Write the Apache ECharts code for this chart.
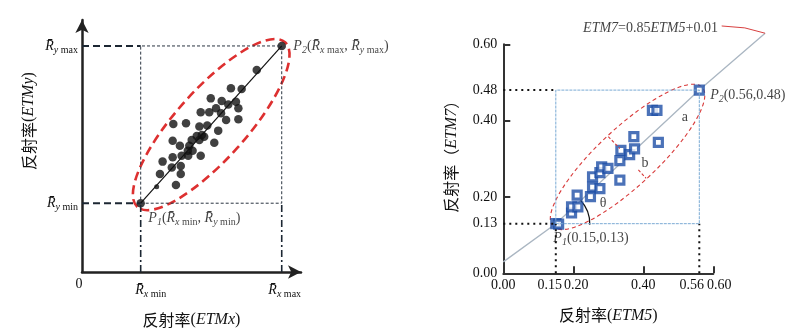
<!DOCTYPE html>
<html><head><meta charset="utf-8">
<script src="https://cdn.jsdelivr.net/npm/echarts@6/dist/echarts.min.js"></script>
<style>html,body{margin:0;padding:0;background:#fff}#c{width:794px;height:333px}</style>
</head><body><div id="c"></div>
<script>
// ================= LEFT (schematic) =================
const Rx = [0.268, 0.912];          // R̄x min, R̄x max
const Ry = [0.273, 0.897];          // R̄y min, R̄y max
const leftDots = [
  [0.798,0.802],[0.680,0.729],[0.729,0.726],[0.588,0.689],[0.638,0.679],[0.703,0.676],
  [0.668,0.665],[0.714,0.650],[0.612,0.650],[0.542,0.634],[0.581,0.634],[0.635,0.630],
  [0.658,0.603],[0.714,0.606],[0.417,0.587],[0.475,0.590],[0.536,0.577],[0.572,0.581],
  [0.622,0.561],[0.547,0.544],[0.524,0.540],[0.558,0.537],[0.501,0.524],[0.414,0.521],
  [0.536,0.524],[0.604,0.513],[0.447,0.501],[0.490,0.501],[0.483,0.481],[0.505,0.481],
  [0.414,0.455],[0.455,0.461],[0.485,0.461],[0.542,0.461],[0.368,0.438],[0.410,0.415],
  [0.451,0.421],[0.356,0.389],[0.451,0.389],[0.429,0.345]
];
const leftSmallDots = [[0.341,0.338]];
const leftLabelPos = { p1: [0.303, 0.214], p2: [0.965, 0.894] };

// ================= RIGHT (ETM5 vs ETM7) =================
const xTickLabelsMain = [0, 0.20, 0.40, 0.60];
const xTickLabelsExtra = [0.15, 0.56];
const yTickLabels = [0, 0.13, 0.20, 0.40, 0.48, 0.60];
const majorTicks = [0.20, 0.40, 0.60];
const P1 = [0.15, 0.13];
const P2 = [0.56, 0.48];
const squares = [
  [0.158,0.129],[0.195,0.158],[0.195,0.174],[0.213,0.174],[0.211,0.205],[0.249,0.201],
  [0.255,0.226],[0.276,0.222],[0.255,0.253],[0.276,0.264],[0.281,0.279],[0.299,0.275],
  [0.333,0.244],[0.333,0.295],[0.336,0.322],[0.361,0.311],[0.375,0.326],[0.373,0.358],
  [0.426,0.427],[0.439,0.427],[0.443,0.343]
];
const fitLine = [[0,0.03],[0.15,0.13],[0.56,0.48],[0.748,0.629]];
const leaderLine = [[0.624,0.648],[0.690,0.643],[0.748,0.629]];
const bMarks = [[[0.300,0.358],[0.333,0.327]],[[0.386,0.271],[0.408,0.249]]];
const rightLabelPos = { p1:[0.143,0.092], p2:[0.591,0.467], eq:[0.228,0.643], a:[0.519,0.409], b:[0.405,0.289], th:[0.285,0.184] };

// ================= styles =================
const serif = "'Liberation Serif','Times New Roman',serif";
const cjk = "'Noto Sans CJK SC','Noto Sans CJK JP',sans-serif";
const RB = 'R\u0304';
const rich = {
  t:  {fontFamily: serif, fontSize: 14, color:'#111', lineHeight: 18},
  it: {fontFamily: serif, fontSize: 14, fontStyle:'italic', color:'#111', lineHeight: 18},
  s:  {fontFamily: serif, fontSize: 10, fontStyle:'italic', color:'#111', lineHeight: 7, verticalAlign:'bottom'},
  sm: {fontFamily: serif, fontSize: 10, color:'#111', lineHeight: 7, verticalAlign:'bottom'}
};
const titleRich = {
  c: {fontFamily: cjk, fontSize: 16, color:'#111'},
  p: {fontFamily: serif, fontSize: 16, color:'#111'},
  i: {fontFamily: serif, fontSize: 16, fontStyle:'italic', color:'#111'}
};
const numStyle = (pad) => ({fontFamily:serif, fontSize:14, color:'#111', lineHeight:16, padding:pad});
const near = (a,b) => Math.abs(a-b) < 1e-6;

function seg(xi, pts, color, width, dash, extra) {
  return Object.assign({
    type:'line', xAxisIndex:xi, yAxisIndex:xi, data: pts, symbol:'none', silent:true,
    animation:false, lineStyle:{color, width, type: dash}
  }, extra || {});
}
function polySeries(xi, pts, style, z) {
  return {
    type:'custom', xAxisIndex:xi, yAxisIndex:xi, clip:false, silent:true, animation:false, z: z || 2,
    data: pts, encode:{x:0, y:1},
    renderItem(params, api) {
      if (params.dataIndex !== 0) return null;
      return {type:'polyline', shape:{points: pts.map(p => api.coord(p))}, style};
    }
  };
}
function ellipseSeries(xi, p1, p2, extra, minor, style) {
  return {
    type:'custom', xAxisIndex:xi, yAxisIndex:xi, clip:false, silent:true, animation:false,
    data:[[p1[0],p1[1],p2[0],p2[1]]], encode:{x:[0,2], y:[1,3]},
    renderItem(params, api) {
      const a = api.coord([api.value(0), api.value(1)]);
      const b = api.coord([api.value(2), api.value(3)]);
      const half = Math.hypot(b[0]-a[0], b[1]-a[1]) / 2;
      const ang = Math.atan2(b[1]-a[1], b[0]-a[0]);
      return {type:'ellipse', x:(a[0]+b[0])/2, y:(a[1]+b[1])/2, rotation:-ang,
        shape:{cx:0, cy:0, rx:half+extra, ry:minor}, style};
    }
  };
}
function labelSeries(xi, items) {
  return {
    type:'scatter', xAxisIndex:xi, yAxisIndex:xi, symbolSize:0, clip:false, silent:true, animation:false,
    data: items.map(it => ({value: it.pos, label:{formatter: it.text}})),
    label:{show:true, position:[0,0], align: 'left', verticalAlign:'middle', rich}
  };
}

const series = [
  // ---------- left ----------
  seg(0, [[0,Ry[1]],[Rx[0],Ry[1]]], '#1c2733', 2, [7,4]),
  seg(0, [[0,Ry[0]],[Rx[0],Ry[0]]], '#1c2733', 2, [7,4]),
  seg(0, [[Rx[0],Ry[0]],[Rx[1],Ry[0]],[Rx[1],Ry[1]],[Rx[0],Ry[1]],[Rx[0],Ry[0]]], '#2a3440', 1, [3,2]),
  seg(0, [[Rx[0],0],[Rx[0],Ry[0]]], '#1c2733', 1.6, [7,3,2,3]),
  seg(0, [[Rx[1],0],[Rx[1],Ry[0]]], '#1c2733', 1.6, [7,3,2,3]),
  seg(0, [[Rx[0],Ry[0]],[Rx[1],Ry[1]]], '#111', 1.2, 'solid'),
  ellipseSeries(0, [Rx[0],Ry[0]], [Rx[1],Ry[1]], 5, 35, {fill:null, stroke:'#dd3030', lineWidth:2.6, lineDash:[9,5]}),
  {type:'scatter', xAxisIndex:0, yAxisIndex:0, symbol:'circle', symbolSize:8.5, silent:true, animation:false,
    itemStyle:{color:'#111'}, data: leftDots.concat([[Rx[0],Ry[0]],[Rx[1],Ry[1]]])},
  {type:'scatter', xAxisIndex:0, yAxisIndex:0, symbol:'circle', symbolSize:5, silent:true, animation:false,
    itemStyle:{color:'#111'}, data: leftSmallDots},
  labelSeries(0, [
    {pos:leftLabelPos.p2, text:'{it|P}{s|2}{t|(}{it|'+RB+'}{s|x}{sm| max}{t|, }{it|'+RB+'}{s|y}{sm| max}{t|)}'},
    {pos:leftLabelPos.p1, text:'{it|P}{s|1}{t|(}{it|'+RB+'}{s|x}{sm| min}{t|, }{it|'+RB+'}{s|y}{sm| min}{t|)}'}
  ]),
  // ---------- right ----------
  polySeries(1, fitLine, {stroke:'#aab6c2', lineWidth:1.3, fill:null}, 1),
  polySeries(1, leaderLine, {stroke:'#d84040', lineWidth:1, fill:null}, 2),
  seg(1, [[0,P2[1]],[P1[0],P2[1]]], '#111', 2, [2,4]),
  seg(1, [[0,P1[1]],[P1[0],P1[1]]], '#111', 2, [2,4]),
  seg(1, [[P1[0],0],[P1[0],P1[1]]], '#111', 2, [2,4]),
  seg(1, [[P2[0],0],[P2[0],P1[1]]], '#111', 2, [2,4]),
  seg(1, [[P1[0],P1[1]],[P2[0],P1[1]],[P2[0],P2[1]],[P1[0],P2[1]],[P1[0],P1[1]]], '#7aaad4', 1, [3,1]),
  ellipseSeries(1, P1, P2, 4, 29, {fill:null, stroke:'#d83a3a', lineWidth:1.1, lineDash:[4,3]}),
  seg(1, bMarks[0], '#d83a3a', 1.1, [3,2]),
  seg(1, bMarks[1], '#d83a3a', 1.1, [3,2]),
  {type:'custom', xAxisIndex:1, yAxisIndex:1, silent:true, animation:false, clip:false,
    data:[[P1[0],P1[1],P2[0],P2[1]]], encode:{x:[0,2], y:[1,3]},
    renderItem(params, api) {
      const a = api.coord([api.value(0), api.value(1)]);
      const b = api.coord([api.value(2), api.value(3)]);
      const ang = Math.atan2(b[1]-a[1], b[0]-a[0]);
      return {type:'arc', shape:{cx:a[0], cy:a[1], r:34, startAngle:ang, endAngle:0.03, clockwise:true},
        style:{stroke:'#111', fill:null, lineWidth:1.2}};
    }},
  {type:'scatter', xAxisIndex:1, yAxisIndex:1, symbol:'rect', symbolSize:8, silent:true, animation:false,
    itemStyle:{color:'#fff', borderColor:'#1e4fa6', borderWidth:3.2}, data: [P1].concat(squares).concat([P2])},
  labelSeries(1, [
    {pos:rightLabelPos.p1, text:'{it|P}{s|1}{t|(0.15,0.13)}'},
    {pos:rightLabelPos.p2, text:'{it|P}{s|2}{t|(0.56,0.48)}'},
    {pos:rightLabelPos.eq, text:'{it|ETM7}{t|=0.85}{it|ETM5}{t|+0.01}'}
  ]),
  {type:'scatter', xAxisIndex:1, yAxisIndex:1, symbolSize:0, clip:false, silent:true, animation:false,
    data:[{value:rightLabelPos.a, name:'a'},{value:rightLabelPos.b, name:'b'},{value:rightLabelPos.th, name:'θ'}],
    label:{show:true, position:[0,0], align:'center', verticalAlign:'middle', formatter:'{b}',
      fontFamily: serif, fontSize:14, color:'#111'}}
];

const chart = echarts.init(document.getElementById('c'), null, {renderer:'canvas'});
chart.setOption({
  backgroundColor:'#fff',
  animation:false,
  grid:[
    {left:82, top:20, width:219, height:252},
    {left:503.3, top:44.3, width:210, height:229}
  ],
  xAxis:[
    {gridIndex:0, type:'value', min:0, max:1, splitLine:{show:false},
      axisLine:{show:true, onZero:false, symbol:['none','arrow'], symbolSize:[10,13], lineStyle:{color:'#222', width:2.5}},
      axisTick:{show:false},
      axisLabel:{show:true, customValues:[0, Rx[0], Rx[1]], margin:9, showMinLabel:true, showMaxLabel:true, hideOverlap:false,
        formatter: v => near(v,0) ? '{z|0}' : (near(v,Rx[0]) ? '{rmin|'+RB+'}{s|x}{sm| min}' : '{rmax|'+RB+'}{s|x}{sm| max}'),
        rich: Object.assign({}, rich, {
          z:{fontFamily:serif, fontSize:14, color:'#111', lineHeight:6, padding:[0,6,0,0]},
          rmin:{fontFamily:serif, fontSize:14, fontStyle:'italic', color:'#111', lineHeight:18, padding:[0,0,0,20]},
          rmax:{fontFamily:serif, fontSize:14, fontStyle:'italic', color:'#111', lineHeight:18, padding:[0,0,0,6]}
        })},
      name:'{c|反射率}{p|(}{i|ETMx}{p|)}', nameLocation:'middle', nameGap:40,
      nameTextStyle:{rich:titleRich}},
    {gridIndex:1, type:'value', position:'bottom', min:0, max:0.6, splitLine:{show:false},
      axisLine:{show:true, onZero:false, lineStyle:{color:'#333', width:2}},
      axisTick:{show:true, inside:true, length:7, customValues: majorTicks, lineStyle:{color:'#333', width:2}},
      axisLabel:{show:true, customValues: xTickLabelsMain, margin:4, showMinLabel:true, showMaxLabel:true, hideOverlap:false,
        formatter: v => {
          const s = v.toFixed(2);
          if (near(v,0.20)) return '{r6|'+s+'}';
          if (near(v,0.60)) return '{r12|'+s+'}';
          return '{n|'+s+'}';
        },
        rich:{ n:numStyle([0,0,0,0]), r6:numStyle([0,0,0,6]), r12:numStyle([0,0,0,12]) }},
      name:'{c|反射率}{p|(}{i|ETM5}{p|)}', nameLocation:'middle', nameGap:34,
      nameTextStyle:{rich:titleRich}},
    {gridIndex:1, type:'value', position:'bottom', offset:0, min:0, max:0.6, splitLine:{show:false},
      axisLine:{show:false}, axisTick:{show:false},
      axisLabel:{show:true, customValues: xTickLabelsExtra, margin:4, showMinLabel:true, showMaxLabel:true, hideOverlap:false,
        formatter: v => {
          const s = v.toFixed(2);
          if (near(v,0.15)) return '{l12|'+s+'}';
          return '{l15|'+s+'}';
        },
        rich:{ l12:numStyle([0,12,0,0]), l15:numStyle([0,15,0,0]) }}}
  ],
  yAxis:[
    {gridIndex:0, type:'value', min:0, max:1, splitLine:{show:false},
      axisLine:{show:true, onZero:false, symbol:['none','arrow'], symbolSize:[10,13], lineStyle:{color:'#222', width:2.5}},
      axisTick:{show:false},
      axisLabel:{show:true, customValues:[Ry[0], Ry[1]], margin:4, showMinLabel:true, showMaxLabel:true, hideOverlap:false,
        formatter: v => near(v,Ry[0]) ? '{it|'+RB+'}{s|y}{sm| min}' : '{it|'+RB+'}{s|y}{sm| max}',
        rich: rich},
      name:'{c|反射率}{p|(}{i|ETMy}{p|)}', nameLocation:'middle', nameGap:45, nameRotate:90,
      nameTextStyle:{rich:titleRich, padding:[0,0,0,50]}},
    {gridIndex:1, type:'value', min:0, max:0.6, splitLine:{show:false},
      axisLine:{show:true, onZero:false, lineStyle:{color:'#333', width:2}},
      axisTick:{show:true, inside:true, length:7, customValues: majorTicks, lineStyle:{color:'#333', width:2}},
      axisLabel:{show:true, customValues: yTickLabels, margin:6, fontFamily:serif, fontSize:14, color:'#111',
        showMinLabel:true, showMaxLabel:true, hideOverlap:false,
        formatter: v => v.toFixed(2)},
      name:'{c|反射率（}{i|ETM7}{c|）}', nameLocation:'middle', nameGap:44, nameRotate:90,
      nameTextStyle:{rich:titleRich, padding:[0,0,0,12]}}
  ],
  series
});
</script></body></html>
